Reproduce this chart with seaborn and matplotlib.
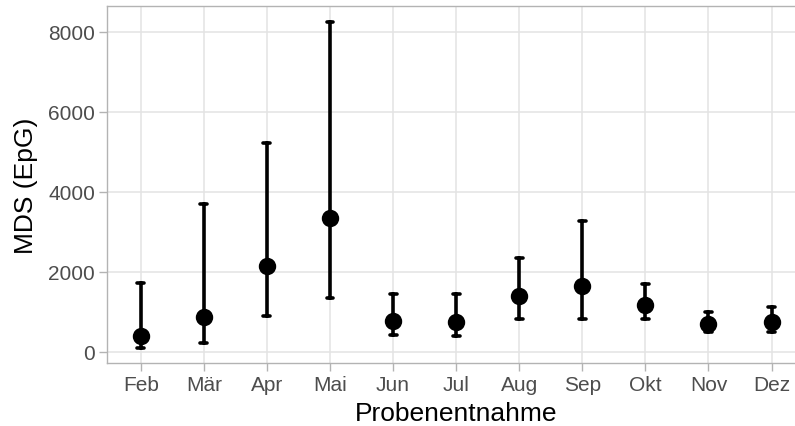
import numpy as np
import pandas as pd
import matplotlib
matplotlib.use("Agg")
import matplotlib.pyplot as plt
import seaborn as sns

# Data
months = ["Feb", "Mär", "Apr", "Mai", "Jun", "Jul", "Aug", "Sep", "Okt", "Nov", "Dez"]
center = [400, 860, 2135, 3335, 775, 740, 1385, 1640, 1175, 685, 735]
lower = [85, 210, 885, 1350, 425, 390, 815, 815, 815, 485, 485]
upper = [1710, 3700, 5218, 8250, 1435, 1430, 2350, 3268, 1700, 1000, 1110]
y_ticks = [0, 2000, 4000, 6000, 8000]

rows = []
for m, c, lo, hi in zip(months, center, lower, upper):
    for v in (lo, c, hi):
        rows.append({"Probenentnahme": m, "MDS": v})
df = pd.DataFrame(rows)

sns.set_theme(style="white")
plt.rcParams["font.family"] = ["Liberation Sans", "DejaVu Sans"]

fig = plt.figure(figsize=(7.95, 4.27), dpi=100)
ax = fig.add_axes([106.7 / 795, (427 - 364.3) / 427, (805.6 - 106.7) / 795, (364.3 - 6.7) / 427])

sns.pointplot(
    data=df, x="Probenentnahme", y="MDS", order=months,
    estimator=np.median,
    errorbar=lambda v: (np.min(v), np.max(v)),
    color="black", linestyle="none", markers="o",
    capsize=0.11,
    err_kws={"linewidth": 2.6},
    markersize=10.5,
    ax=ax, zorder=3,
)

ax.set_xlim(-0.54, 10.54)
ax.set_ylim(-295, 8645)
ax.set_yticks(y_ticks)
ax.set_yticklabels([str(t) for t in y_ticks])

ax.grid(True, color="#E3E3E3", linewidth=1.1)
ax.set_axisbelow(True)
for side in ["left", "top", "bottom", "right"]:
    ax.spines[side].set_color("#B3B3B3")
    ax.spines[side].set_linewidth(1.0)
ax.spines["right"].set_visible(False)

ax.tick_params(axis="both", which="major", length=5.5, width=1.0, color="#B3B3B3",
               labelsize=15, labelcolor="#4D4D4D", pad=3, bottom=True, left=True)
ax.set_xlabel("Probenentnahme", fontsize=19, color="black", labelpad=5)
ax.set_ylabel("MDS (EpG)", fontsize=19, color="black", labelpad=7)

fig.savefig("out.png", dpi=100)
